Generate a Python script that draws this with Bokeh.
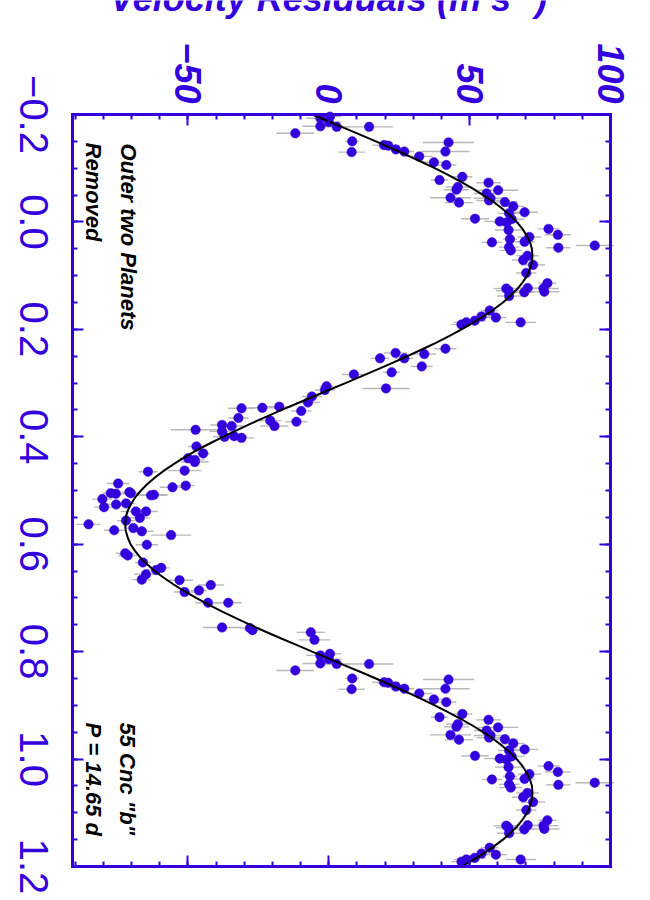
import numpy as np
from bokeh.plotting import figure
from bokeh.models import Range1d, LinearAxis, FixedTicker, ColumnDataSource, Label
from bokeh.embed import file_html
from bokeh.resources import INLINE
from bokeh.core.properties import value

BLUE = "#3300dd"
SANS = "Liberation Sans"

# ---- data: orbital phase, velocity residual (m/s), error (m/s) ----
phase = [-0.193, -0.196, -0.186, -0.178, -0.177, -0.177, -0.165, -0.150, -0.130, -0.143,
         -0.142, -0.135, -0.131, -0.122, -0.148, -0.131, -0.111, -0.106, -0.084, -0.078,
         -0.065, -0.060, -0.045, -0.036, -0.073, -0.059, -0.053, -0.044, -0.040, -0.037,
         -0.029, -0.018, -0.016, -0.006, -0.001, 0.001, -0.005,
         0.015, 0.013, 0.024, 0.028, 0.038, 0.032, 0.037, 0.047, 0.053, 0.048,
         0.044, 0.063, 0.071, 0.080, 0.095, 0.114, 0.124, 0.130, 0.124, 0.128,
         0.138, 0.123, 0.131, 0.165, 0.178, 0.187, 0.176, 0.184, 0.187, 0.191,
         0.236, 0.246, 0.244, 0.254, 0.254, 0.269, 0.280, 0.284, 0.310, 0.306,
         0.313, 0.325, 0.336, 0.352, 0.372, 0.344, 0.346, 0.347, 0.365, 0.370,
         0.380, 0.380, 0.378, 0.390, 0.387, 0.400, 0.399, 0.402, 0.418, 0.431,
         0.440, 0.443, 0.447, 0.463, 0.465, 0.491, 0.494, 0.487, 0.503, 0.505,
         0.505, 0.506, 0.516, 0.509, 0.508, 0.531, 0.526, 0.524, 0.539, 0.539,
         0.551, 0.556, 0.563, 0.574, 0.570, 0.576, 0.583, 0.601, 0.617, 0.621,
         0.634, 0.648, 0.644, 0.656, 0.666, 0.667, 0.689, 0.686, 0.676, 0.709,
         0.709, 0.755, 0.756, 0.760, 0.764, 0.778]

vel = [-3.0, 0.4, 0.0, -3.0, 2.8, 14.3, -11.9, 8.3, 8.1, 19.6,
       21.1, 23.8, 26.8, 32.1, 42.5, 41.4, 37.3, 41.7, 47.4, 39.3,
       45.8, 45.3, 43.2, 46.2, 56.7, 60.1, 56.0, 57.4, 56.9, 62.5,
       65.5, 69.5, 64.0, 51.9, 60.7, 63.1, 64.9,
       63.8, 78.0, 81.3, 71.2, 57.9, 64.3, 69.5, 64.0, 64.6, 81.5,
       94.4, 70.5, 69.0, 72.5, 70.1, 77.6, 76.2, 76.5, 63.0, 63.8,
       64.0, 70.6, 69.4, 57.1, 59.3, 68.1, 54.2, 51.8, 48.8, 47.1,
       41.4, 33.9, 23.7, 18.2, 26.8, 33.0, 22.3, 8.9, 20.3, -0.8,
       -1.4, -6.0, -7.4, -9.8, -11.5, -17.6, -23.6, -31.0, -32.1, -20.8,
       -19.3, -34.5, -37.9, -37.9, -47.3, -37.0, -33.6, -31.0, -47.0, -44.6,
       -50.0, -47.6, -47.6, -51.2, -64.2, -50.8, -55.5, -74.8, -70.8, -70.3,
       -77.4, -75.6, -80.4, -63.1, -62.1, -79.8, -75.5, -72.0, -68.5, -64.9,
       -67.1, -72.0, -85.3, -76.2, -69.4, -66.4, -56.0, -64.6, -72.3, -71.4,
       -66.0, -61.3, -59.5, -64.9, -66.4, -53.0, -51.2, -46.1, -41.9, -42.9,
       -35.7, -37.9, -28.0, -27.1, -6.4, -5.1]

err = [5.0, 4.0, 4.5, 6.3, 4.5, 8.6, 6.7, 2.5, 4.7, 4.2,
       4.0, 4.0, 3.5, 4.7, 9.1, 8.6, 4.7, 3.6, 3.5, 3.0,
       4.3, 4.5, 7.3, 5.0, 4.3, 7.1, 4.5, 6.0, 4.5, 4.5,
       4.0, 4.8, 4.0, 5.0, 5.5, 4.5, 4.5,
       4.8, 3.9, 4.6, 4.2, 3.6, 2.5, 3.6, 3.6, 4.0, 4.3,
       6.8, 4.0, 4.0, 4.3, 3.6, 3.2, 5.4, 5.4, 4.5, 4.5,
       4.3, 4.0, 3.5, 3.0, 3.9, 5.4, 3.0, 4.0, 4.5, 3.6,
       3.9, 4.2, 4.2, 3.2, 3.2, 3.9, 3.0, 4.3, 8.3, 2.5,
       3.6, 3.6, 4.2, 3.6, 3.9, 4.3, 5.0, 4.8, 3.6, 3.9,
       5.0, 4.2, 4.2, 4.5, 8.7, 4.0, 4.6, 4.6, 3.0, 2.3,
       3.0, 3.5, 4.9, 6.0, 3.3, 3.3, 4.5, 4.0, 2.6, 3.0,
       3.0, 3.5, 3.6, 5.4, 5.0, 3.6, 4.5, 3.3, 5.4, 4.2,
       3.5, 3.2, 4.3, 3.6, 2.3, 4.2, 7.1, 3.9, 3.3, 3.3,
       2.8, 3.0, 3.0, 4.3, 3.3, 4.8, 3.9, 2.8, 4.6, 4.5,
       4.8, 6.8, 3.5, 3.0, 5.0, 5.6]

# fitted orbit curve, read every 0.0125 in phase starting at -0.2
fit_start = -0.2
fit_step = 0.0125
fit_vel = [-5.9, -0.2, 5.4, 11.1, 16.7, 22.1, 27.5, 32.6, 37.6, 42.3,
           46.8, 51.0, 54.8, 58.4, 61.5, 64.3, 66.7, 68.7, 70.2, 71.4,
           72.1, 72.3, 72.1, 71.4, 70.4, 68.8, 66.9, 64.5, 61.8, 58.6,
           55.1, 51.3, 47.1, 42.7, 38.0, 33.0, 27.9, 22.6, 17.1, 11.5,
           5.9, 0.2, -5.4, -11.1, -16.7, -22.1, -27.5, -32.6, -37.6, -42.3,
           -46.8, -51.0, -54.8, -58.4, -61.5, -64.3, -66.7, -68.7, -70.2, -71.4,
           -72.1, -72.3, -72.1, -71.4, -70.4, -68.8, -66.9, -64.5, -61.8, -58.6,
           -55.1, -51.3, -47.1, -42.7, -38.0, -33.0, -27.9, -22.6, -17.1, -11.5]

vel_ticks = [-50, 0, 50, 100]
vel_tick_labels = ["\u221250", "0", "50", "100"]
vel_minor = [-90, -80, -70, -60, -50, -40, -30, -20, -10, 0, 10, 20, 30, 40, 50, 60, 70, 80, 90, 100]
phase_ticks = [-0.2, 0.0, 0.2, 0.4, 0.6, 0.8, 1.0, 1.2]
phase_tick_labels = ["\u22120.2", "0.0", "0.2", "0.4", "0.6", "0.8", "1.0", "1.2"]
phase_minor = [-0.2, -0.15, -0.1, -0.05, 0.0, 0.05, 0.1, 0.15, 0.2, 0.25, 0.3, 0.35, 0.4, 0.45,
               0.5, 0.55, 0.6, 0.65, 0.7, 0.75, 0.8, 0.85, 0.9, 0.95, 1.0, 1.05, 1.1, 1.15, 1.2]

# ---- layout (pixels of the page; the canvas starts at the window corner) ----
W, H = 648, 898
FRAME_L, FRAME_R, FRAME_T, FRAME_B = 72, 610, 114, 866
V0, V1 = -91, 100          # velocity extent of the box
P0, P1 = -0.2, 1.2         # phase extent of the box
sx = (FRAME_R - FRAME_L) / (V1 - V0)
sy = (FRAME_B - FRAME_T) / (P1 - P0)


def vx(px):   # page x pixel -> velocity coordinate
    return V0 + (px - FRAME_L) / sx


def py(px):   # page y pixel -> phase coordinate
    return P0 + (px - FRAME_T) / sy


# ---- repeat phases -0.2..0.2 at +1 (as in the plot) ----
ph = np.array(phase)
v = np.array(vel)
e = np.array(err)
wrap = ph <= 0.2
ph_all = np.concatenate([ph, ph[wrap] + 1.0])
v_all = np.concatenate([v, v[wrap]])
e_all = np.concatenate([e, e[wrap]])
src = ColumnDataSource(dict(ph=ph_all, v=v_all, lo=v_all - e_all, hi=v_all + e_all))

fv = np.array(fit_vel)
fph = fit_start + fit_step * np.arange(len(fv))
fw = fph <= 0.2 + 1e-9
fit_src = ColumnDataSource(dict(ph=np.concatenate([fph, fph[fw] + 1.0]),
                                v=np.concatenate([fv, fv[fw]])))

p = figure(width=W, height=H,
           x_range=Range1d(vx(0), vx(W)), y_range=Range1d(py(H), py(0)),
           x_axis_location=None, y_axis_location=None,
           output_backend="svg", toolbar_location=None, min_border=0,
           background_fill_color="white", border_fill_color="white")
p.grid.visible = False
p.outline_line_color = None


def make_axis(ticks, minor, loc, bounds):
    ax = LinearAxis(ticker=FixedTicker(ticks=ticks, minor_ticks=minor),
                    fixed_location=loc, bounds=bounds)
    ax.axis_line_color = BLUE
    ax.axis_line_width = 3
    ax.axis_line_cap = "square"
    ax.major_tick_line_color = BLUE
    ax.major_tick_line_width = 2
    ax.minor_tick_line_color = BLUE
    ax.minor_tick_line_width = 2
    ax.major_tick_in = 11
    ax.major_tick_out = 0
    ax.minor_tick_in = 5
    ax.minor_tick_out = 0
    ax.major_label_overrides = {t: "" for t in ticks}
    ax.major_label_text_font_size = "1px"
    ax.major_label_standoff = 0
    return ax


p.add_layout(make_axis(vel_ticks, vel_minor, P0, (V0, V1)), "above")
p.add_layout(make_axis(vel_ticks, vel_minor, P1, (V0, V1)), "below")
p.add_layout(make_axis(phase_ticks, phase_minor, V0, (P0, P1)), "left")
p.add_layout(make_axis(phase_ticks, phase_minor, V1, (P0, P1)), "right")

# error bars, points, fitted curve
p.segment(x0="lo", y0="ph", x1="hi", y1="ph", source=src, line_color="#b8b8b8", line_width=1.4)
p.scatter(x="v", y="ph", source=src, size=9.5, fill_color=BLUE, line_color=BLUE, line_width=0.5)
p.line(x="v", y="ph", source=fit_src, line_color="black", line_width=2)

# tick labels (rotated, as in the original page)
p.text(x=[vx(33)] * len(phase_ticks), y=phase_ticks, text=phase_tick_labels,
       angle=-np.pi / 2, text_align="center", text_baseline="middle",
       text_font=value(SANS), text_font_size="40px", text_color=BLUE)
p.text(x=vel_ticks, y=[py(103)] * len(vel_ticks), text=vel_tick_labels,
       angle=-np.pi / 2, text_align="right", text_baseline="middle",
       text_font=value(SANS), text_font_size="36px", text_font_style="bold italic",
       text_color=BLUE)


def rlabel(x, y, text, size, color="black", style="bold italic",
           align="left", baseline="middle", angle=-np.pi / 2):
    p.add_layout(Label(x=x, y=y, text=text, angle=angle, angle_units="rad",
                       text_font=SANS, text_font_size=size, text_font_style=style,
                       text_color=color, text_align=align, text_baseline=baseline))


rlabel(vx(128), py(143), "Outer two Planets", "22px")
rlabel(vx(92.5), py(142), "Removed", "22px")
rlabel(vx(127), py(722), "55 Cnc \"b\"", "22px")
rlabel(vx(92.5), py(722), "P = 14.65 d", "22px")

# axis titles, cut off by the page edges as in the original
rlabel(vx(333), py(-2), "Velocity Residuals  (m s\u207b\u00b9)", "36px", color=BLUE,
       align="center", baseline="alphabetic", angle=0)
rlabel(vx(-16), py(490), "Orbital Phase", "36px", color=BLUE,
       align="center", baseline="alphabetic")

open("out.html", "w").write(file_html(p, INLINE))
